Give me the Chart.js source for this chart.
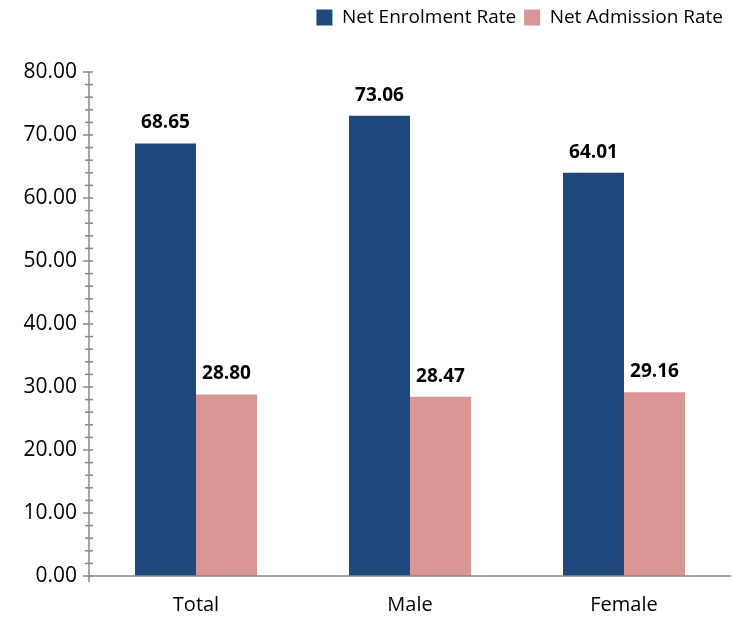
<!DOCTYPE html>
<html><head><meta charset="utf-8">
<script src="https://cdn.jsdelivr.net/npm/chart.js@4"></script>
<style>html,body{margin:0;padding:0;background:#fff}#w{width:732px;height:620px}</style>
</head><body><div id="w"><canvas id="c"></canvas></div>
<script>
const categories = ["Total", "Male", "Female"];
const enrolment = [68.65, 73.06, 64.01];
const admission = [28.80, 28.47, 29.16];
const seriesNames = ["Net Enrolment Rate", "Net Admission Rate"];
const FONT = "'Open Sans', sans-serif";

const legendGap = { id: 'legendGap', beforeInit(chart) {
  const orig = chart.legend.fit;
  chart.legend.fit = function () { orig.bind(chart.legend)(); this.height += 35; };
} };

const tickMarks = {
  id: 'tickMarks',
  afterDraw(chart) {
    const ctx = chart.ctx, y = chart.scales.y;
    const ax = chart.chartArea.left;
    ctx.save();
    ctx.strokeStyle = '#888'; ctx.lineWidth = 1.5;
    ctx.beginPath(); ctx.moveTo(ax, y.getPixelForValue(80)); ctx.lineTo(ax, y.getPixelForValue(0)); ctx.stroke();
    for (let v = 0; v <= 80; v += 2) {
      const p = y.getPixelForValue(v);
      const major = v % 10 === 0;
      ctx.beginPath(); ctx.moveTo(ax - (major ? 6 : 4), p); ctx.lineTo(ax + 4, p); ctx.stroke();
    }
    const by = y.getPixelForValue(0);
    ctx.beginPath(); ctx.moveTo(ax, by); ctx.lineTo(chart.chartArea.right, by); ctx.stroke();
    ctx.beginPath(); ctx.moveTo(ax, by); ctx.lineTo(ax, by + 6); ctx.stroke();
    ctx.fillStyle = '#000'; ctx.font = "bold 19px " + FONT; ctx.textAlign = 'center'; ctx.textBaseline = 'bottom';
    chart.data.datasets.forEach((ds, di) => {
      chart.getDatasetMeta(di).data.forEach((bar, i) => {
        ctx.fillText(ds.data[i].toFixed(2), bar.x, bar.y - 11);
      });
    });
    ctx.restore();
  }
};

new Chart(document.getElementById('c'), {
  type: 'bar',
  data: {
    labels: categories,
    datasets: [
      { label: seriesNames[0], data: enrolment, backgroundColor: '#1F497D', categoryPercentage: 0.57, barPercentage: 1 },
      { label: seriesNames[1], data: admission, backgroundColor: '#D99694', categoryPercentage: 0.57, barPercentage: 1 }
    ]
  },
  options: {
    responsive: true, maintainAspectRatio: false, animation: false,
    layout: { padding: { top: 0, right: 1, bottom: 0, left: 0 } },
    plugins: {
      legend: { position: 'top', align: 'end',
        labels: { font: { family: FONT, size: 19 }, color: '#000', boxWidth: 16, boxHeight: 16, padding: 8 } },
      tooltip: { enabled: false }
    },
    scales: {
      x: { afterFit(s) { s.height = 44; }, grid: { display: false, drawTicks: false }, border: { display: false },
        ticks: { font: { family: FONT, size: 20 }, color: '#000', padding: 17 } },
      y: { min: 0, max: 80, afterFit(s) { s.width = 89; },
        grid: { display: false, drawTicks: false }, border: { display: false },
        ticks: { stepSize: 10, font: { family: FONT, size: 21 }, color: '#000', padding: 12,
          callback: v => v.toFixed(2) } }
    }
  },
  plugins: [legendGap, tickMarks]
});
</script></body></html>
